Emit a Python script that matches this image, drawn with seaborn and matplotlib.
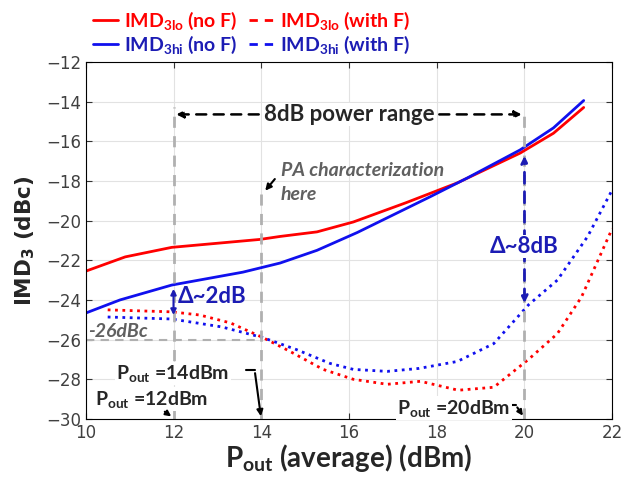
import matplotlib
matplotlib.use("Agg")
import matplotlib.pyplot as plt
from matplotlib.lines import Line2D
import numpy as np
import seaborn as sns

# IMD3 low side, no filter
lo_nof_x = [10.0, 10.9, 11.96, 13.97, 14.43, 15.27, 16.1, 17.3, 18.47, 19.9, 20.66, 21.35]
lo_nof_y = [-22.55, -21.83, -21.35, -20.95, -20.8, -20.57, -20.07, -19.1, -18.1, -16.6, -15.6, -14.3]
# IMD3 high side, no filter
hi_nof_x = [10.0, 10.78, 11.96, 13.58, 14.43, 15.27, 16.19, 17.85, 18.7, 19.9, 20.66, 21.35]
hi_nof_y = [-24.66, -24.0, -23.25, -22.6, -22.14, -21.5, -20.6, -18.8, -17.85, -16.44, -15.33, -13.95]
# IMD3 low side, with filter
lo_f_x = [10.5, 11.96, 12.6, 13.3, 14.04, 14.66, 15.41, 16.1, 16.87, 17.63, 18.49, 19.3, 20.09, 20.75, 21.3, 22.0]
lo_f_y = [-24.5, -24.6, -24.76, -25.16, -25.9, -26.6, -27.5, -28.0, -28.25, -28.1, -28.55, -28.4, -27.0, -25.7, -23.85, -20.4]
# IMD3 high side, with filter
hi_f_x = [10.5, 11.96, 13.1, 14.04, 14.8, 15.57, 16.1, 16.87, 17.6, 18.47, 19.3, 20.09, 20.75, 21.44, 22.0]
hi_f_y = [-24.86, -24.96, -25.36, -25.9, -26.5, -27.2, -27.5, -27.6, -27.45, -27.1, -26.2, -24.25, -23.0, -20.8, -18.45]

RED = "#ff0000"
BLUE = "#1010ee"
TXT_BLUE = "#1c1cb4"
GRAY = "#b0b0b0"
TXT_GRAY = "#606060"

sns.set_style("whitegrid")
plt.rcParams["font.family"] = ["Lato", "DejaVu Sans"]
plt.rcParams["mathtext.default"] = "regular"

fig, ax = plt.subplots(figsize=(6.26, 4.83), dpi=100)
fig.subplots_adjust(left=0.137, right=0.978, top=0.872, bottom=0.1325)

sns.lineplot(x=lo_nof_x, y=lo_nof_y, ax=ax, color=RED, lw=2)
sns.lineplot(x=hi_nof_x, y=hi_nof_y, ax=ax, color=BLUE, lw=2)
sns.lineplot(x=lo_f_x, y=lo_f_y, ax=ax, color=RED, lw=2, linestyle=":")
sns.lineplot(x=hi_f_x, y=hi_f_y, ax=ax, color=BLUE, lw=2, linestyle=":")

ax.set_xlim(10, 22)
ax.set_ylim(-30, -12)
ax.set_xticks(np.arange(10, 23, 2))
ax.set_yticks(np.arange(-30, -11, 2))
ax.grid(color="#e2e2e2", lw=0.8)
for s in ax.spines.values():
    s.set_color("black")
    s.set_linewidth(0.8)
ax.tick_params(labelsize=12, colors="#333333", direction="in", length=4,
               bottom=True, left=True, top=True, right=True)
for lab in ax.get_xticklabels() + ax.get_yticklabels():
    lab.set_family("DejaVu Sans")
    lab.set_color("#404040")

ax.set_xlabel("P$_{out}$ (average) (dBm)", fontsize=20, fontweight="bold", labelpad=0)
ax.set_ylabel("IMD$_3$ (dBc)", fontsize=15.5, fontweight="bold", labelpad=6, family="DejaVu Sans")

# reference lines
ax.plot([12, 12], [-30, -14.3], color=GRAY, lw=2, ls=(0, (4, 3)))
ax.plot([14, 14], [-30, -18.65], color=GRAY, lw=2, ls=(0, (4, 3)))
ax.plot([20, 20], [-30, -14.5], color=GRAY, lw=2, ls=(0, (4, 3)))
ax.plot([10, 14], [-26, -26], color=GRAY, lw=1.5, ls=(0, (4, 3)))

# 8dB power range
ax.annotate("", xy=(12, -14.65), xytext=(16, -14.65),
            arrowprops=dict(arrowstyle="-|>", color="black", lw=1.8, ls=(0, (4, 3)), mutation_scale=10))
ax.annotate("", xy=(20, -14.65), xytext=(16, -14.65),
            arrowprops=dict(arrowstyle="-|>", color="black", lw=1.8, ls=(0, (4, 3)), mutation_scale=10))
ax.text(16, -14.65, "8dB power range", ha="center", va="center", fontsize=16, fontweight="bold",
        bbox=dict(fc="white", ec="none", pad=1))

# PA characterization
ax.text(14.45, -17.5, "PA characterization", fontsize=14, fontstyle="italic", fontweight="bold",
        color=TXT_GRAY, va="center")
ax.text(14.45, -18.7, "here", fontsize=14, fontstyle="italic", fontweight="bold",
        color=TXT_GRAY, va="center")
ax.annotate("", xy=(14.05, -18.6), xytext=(14.35, -17.8),
            arrowprops=dict(arrowstyle="-|>", color="black", lw=1.5, mutation_scale=9))

# delta 8 dB
ax.annotate("", xy=(20, -16.6), xytext=(20, -24.3),
            arrowprops=dict(arrowstyle="<|-|>", color=TXT_BLUE, lw=2, ls=(0, (4, 3)), mutation_scale=10))
ax.text(20, -21.3, "Δ~8dB", ha="center", va="center", fontsize=16, fontweight="bold", color=TXT_BLUE,
        bbox=dict(fc="white", ec="none", pad=1))

# delta 2 dB
ax.annotate("", xy=(12, -23.3), xytext=(12, -24.9),
            arrowprops=dict(arrowstyle="<|-|>", color=TXT_BLUE, lw=1.5, mutation_scale=8))
ax.text(12.1, -23.85, "Δ~2dB", ha="left", va="center", fontsize=16, fontweight="bold", color=TXT_BLUE)

ax.text(10.05, -25.6, "-26dBc", fontsize=14, fontstyle="italic", fontweight="bold", color=TXT_GRAY,
        va="center")

# Pout labels
ax.text(10.7, -27.7, "P$_{out}$ =14dBm", fontsize=14, fontweight="bold", va="center",
        bbox=dict(fc="white", ec="none", pad=1))
ax.plot([13.65, 13.85], [-27.55, -27.55], color="black", lw=1.5)
ax.annotate("", xy=(14, -30), xytext=(13.85, -27.55),
            arrowprops=dict(arrowstyle="-|>", color="black", lw=1.5, mutation_scale=9))

ax.text(10.2, -29.0, "P$_{out}$ =12dBm", fontsize=14, fontweight="bold", va="center",
        bbox=dict(fc="white", ec="none", pad=1))
ax.annotate("", xy=(12, -29.95), xytext=(11.75, -29.55),
            arrowprops=dict(arrowstyle="-|>", color="black", lw=1.5, mutation_scale=8))

ax.text(17.1, -29.45, "P$_{out}$ =20dBm", fontsize=14, fontweight="bold", va="center",
        bbox=dict(fc="white", ec="none", pad=1))
ax.plot([19.62, 19.8], [-29.3, -29.3], color="black", lw=1.5)
ax.annotate("", xy=(20, -29.95), xytext=(19.8, -29.3),
            arrowprops=dict(arrowstyle="-|>", color="black", lw=1.5, mutation_scale=8))

# legend
handles = [
    Line2D([], [], color=RED, lw=2),
    Line2D([], [], color=BLUE, lw=2),
    Line2D([], [], color=RED, lw=2, ls=(0, (3, 2.5))),
    Line2D([], [], color=BLUE, lw=2, ls=(0, (3, 2.5))),
]
labels = ["IMD$_{3lo}$ (no F)", "IMD$_{3hi}$ (no F)", "IMD$_{3lo}$ (with F)", "IMD$_{3hi}$ (with F)"]
leg = fig.legend(handles, labels, ncol=2, loc="upper left", bbox_to_anchor=(0.12, 1.015),
                 frameon=False, fontsize=14, handlelength=1.3, handletextpad=0.3,
                 columnspacing=0.6, labelspacing=0.1)
for t, c in zip(leg.get_texts(), [RED, TXT_BLUE, RED, TXT_BLUE]):
    t.set_color(c)
    t.set_fontweight("bold")

fig.savefig("out.png", dpi=100)
